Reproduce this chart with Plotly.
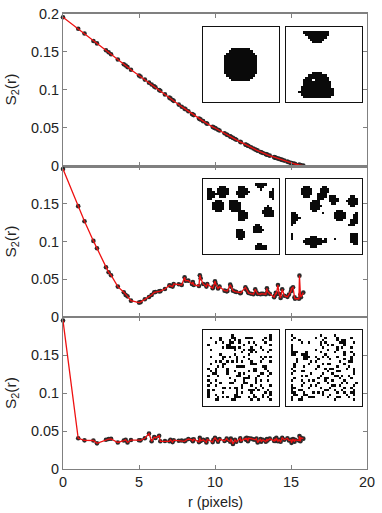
import plotly.graph_objects as go

# r values are the same for all three panels (distances on the pixel lattice)
r_pixels = [0, 1, 1.414, 2, 2.236, 2.828, 3, 3.162, 3.606, 4,
            4.123, 4.243, 4.472, 5, 5.099, 5.385, 5.657, 5.831, 6, 6.083,
            6.325, 6.403, 6.708, 7, 7.071, 7.211, 7.280, 7.616, 7.810, 8,
            8.062, 8.246, 8.485, 8.544, 8.602, 8.944, 9, 9.055, 9.220, 9.434,
            9.487, 9.849, 9.899, 10, 10.050, 10.198, 10.296, 10.630, 10.770, 10.817,
            11, 11.045, 11.180, 11.314, 11.402, 11.662, 11.705, 12, 12.042, 12.083,
            12.166, 12.207, 12.369, 12.530, 12.649, 12.728, 12.806, 13, 13.038, 13.153,
            13.342, 13.416, 13.454, 13.601, 13.892, 13.928, 14, 14.036, 14.142, 14.213,
            14.318, 14.422, 14.560, 14.765, 14.866, 15, 15.033, 15.133, 15.232, 15.264,
            15.524, 15.556, 15.620, 15.652, 15.811]

s2_top = [.1957, .1806, .1742, .1643, .1612, .1522, .1495, .1470, .1400, .1337,
          .1320, .1300, .1265, .1190, .1175, .1135, .1095, .1070, .1045, .1033,
          .0998, .0987, .0940, .0897, .0887, .0865, .0855, .0805, .0777, .0752,
          .0743, .0717, .0682, .0675, .0667, .0622, .0615, .0608, .0587, .0560,
          .0553, .0512, .0505, .0497, .0491, .0474, .0463, .0427, .0411, .0405,
          .0386, .0381, .0366, .0351, .0341, .0314, .0309, .0280, .0276, .0272,
          .0263, .0259, .0242, .0226, .0214, .0206, .0198, .0180, .0177, .0167,
          .0152, .0146, .0143, .0132, .0112, .0109, .0104, .0102, .0095, .0090,
          .0083, .0076, .0067, .0053, .0046, .0036, .0034, .0029, .0024, .0022,
          .0011, .0010, .0008, .0006, .0001]

s2_mid = [.1957, .1466, .1268, .1008, .0911, .0660, .0594, .0555, .0405, .0330,
          .0295, .0277, .0220, .0194, .0200, .0238, .0269, .0295, .0330, .0335,
          .0343, .0345, .0374, .0423, .0415, .0405, .0440, .0436, .0427, .0528,
          .0484, .0484, .0440, .0465, .0427, .0414, .0555, .0515, .0440, .0405,
          .0440, .0383, .0405, .0476, .0440, .0380, .0405, .0352, .0343, .0348,
          .0431, .0405, .0352, .0340, .0335, .0318, .0325, .0396, .0370, .0365,
          .0335, .0320, .0312, .0305, .0370, .0330, .0308, .0305, .0312, .0310,
          .0305, .0383, .0340, .0310, .0265, .0285, .0325, .0305, .0427, .0310,
          .0255, .0370, .0285, .0270, .0300, .0345, .0380, .0396, .0265, .0245,
          .0245, .0550, .0300, .0265, .0326]

s2_bot = [.1957, .0405, .0378, .0376, .0338, .0385, .0395, .0398, .0350, .0375,
          .0385, .0350, .0382, .0380, .0378, .0405, .0467, .0365, .0420, .0410,
          .0437, .0365, .0370, .0365, .0385, .0355, .0380, .0372, .0375, .0365,
          .0375, .0395, .0385, .0365, .0392, .0355, .0410, .0370, .0385, .0350,
          .0390, .0355, .0385, .0410, .0395, .0360, .0395, .0370, .0400, .0385,
          .0360, .0400, .0330, .0385, .0360, .0405, .0370, .0400, .0385, .0410,
          .0365, .0405, .0400, .0390, .0385, .0400, .0350, .0395, .0360, .0385,
          .0360, .0395, .0375, .0400, .0370, .0395, .0370, .0410, .0365, .0385,
          .0360, .0410, .0385, .0405, .0375, .0385, .0345, .0395, .0360, .0385,
          .0375, .0435, .0365, .0410, .0400]

# binary microstructures, one string per row of the 32x32 image
inset_a = ["", "", "", "", "", "", "", "", "",
           "............xxxxxxxx",
           "...........xxxxxxxxxx",
           "..........xxxxxxxxxxxx",
           ".........xxxxxxxxxxxxxx",
           ".........xxxxxxxxxxxxxx",
           ".........xxxxxxxxxxxxxx",
           ".........xxxxxxxxxxxxxx",
           ".........xxxxxxxxxxxxxx",
           ".........xxxxxxxxxxxxxx",
           ".........xxxxxxxxxxxxxx",
           ".........xxxxxxxxxxxxxx",
           "..........xxxxxxxxxxxx",
           "...........xxxxxxxxxx",
           "............xxxxxxxx",
           "", "", "", "", "", "", "", "", ""]

inset_b = ["", "",
           ".......xxxxxxxxxxx",
           "........xxxxxxxxxx",
           ".........xxxxxxxx",
           "..........xxxxxx",
           "...........xxxx",
           "", "", "", "", "", "", "", "", "", "", "", "",
           "...........xxxx",
           ".........xxxxxxxx",
           "........xxxxxxxxxx",
           ".......xxxx.xxxxxx",
           ".......xxxxxxxxxxxx",
           ".......xxxxxxxxxxxx",
           "......xxxxxxxxxxxxx",
           "......xxxxxxxxxxxxxx",
           ".....xxxxxxxxxxxxxxx",
           "......xxxxxxxxxxxxxx",
           ".......xxxxxxxxxxxx",
           "", ""]

inset_c = ["", "",
           "......................xxxxx",
           ".......xxx.....xxx.....xxx",
           "..xx..xxxxx....xxxx.....x....x",
           "..xxx.xxxxx...xxxxxx........xx",
           "..xxxxxxxxx...xxxxx.........xx",
           "..xxx..xxx.....xxx..........xx",
           "..xx.........................x",
           ".....xxx...xxxx",
           "....xxxxx..xxxxx",
           "....xxxxx..xxxxx...........x",
           "....xxxxx..xxxxx..........xxx",
           ".....xxx....xxxxxx.......xxxxx",
           "...............xxxx......xxxxx",
           "...............xxxx.......xxxx",
           "...............xxxx",
           "...............xxx",
           "",
           "......................xx",
           ".....................xxxx",
           "..............xxx....xxxxx",
           "..............xxxx...xxxx",
           "..............xxxx",
           "..............xxxx",
           "...............xx",
           "",
           ".......................xx",
           "......................xxxxx",
           "......................xxxxx",
           "", ""]

inset_d = ["", "", "",
           ".......xxx.....xx",
           "......xxxxx...xxxx",
           "......xxxxx...xxxx",
           "......xxxxx..xxxx",
           ".......xxx...xxxx.xxx......xx",
           ".............xxx..xxxx....xxxx",
           "...........xxx....xxxx...xxxxx",
           "..........xxxx.....xx.....xxxx",
           "..........xxxxx............xx",
           "..........xxxx",
           "...........xx........xxx",
           "..xx...........x....xxxxx....x",
           "..xxx...............xxxxx...xx",
           "..xxxx..............xxxxx...xx",
           "..xxx................xxx...xxx",
           "..xx.......................xxx",
           "..x.......................xxx",
           "", "", "",
           "..x........................xxx",
           "..x.......xxx..............xxx",
           "..x.....xxxxxxx.x...x......xxx",
           ".......xxxxxxxxxx..........xxx",
           "........xxxxxxx.............xx",
           "..........xxx",
           "", "", ""]

inset_e = ["", "",
           "............x...............x",
           "...x...x....xx....xxx.....x.x",
           ".......x...x.x.x.........x..x",
           ".....x..x..xx..x...x.x....x",
           "..x.......xx.....x....x.....x",
           "........x.xxxx.x....x...x",
           "...x.........x...x.xxx...x..x",
           "................x...x.x....x",
           ".......x.....x.....x",
           "...x....xx.x..x..x......x.x.x",
           "........x.....x....x.....x",
           ".....x.x..x.x.x.x...x...x...x",
           "...x....xx..........xxx",
           "......x.x.....xxxx.......xx",
           "..x..x....x..........xx...x",
           "...x.x....x..x.....x.xx....x",
           "....xx....x....x.x......xx..x",
           "..x...x.......xx...x...x...x",
           "...........x.....xxx..x",
           "..x..x.......x...x....x.x..x",
           "...x...x...xx....xx...x",
           "..x..x..........x...x...x...x",
           "........xx.x.xx.x.....x..x",
           "..x.x.........x....xxx.x...x",
           "..x.....x.....x.x...x.....x.x",
           "..x..x.......xx......x...x..x",
           "..x...x.x.x..xxx...x.xx..x.x",
           ".....xx.....xx......x..x....x",
           "", ""]

inset_f = ["", "",
           "..x...........x.....x",
           "...x........x...x....x.....x",
           "..x..x.........x.....x.xx",
           "......x..x....x.x.....xxx...x",
           "..x...........x..x.x....x",
           "..x............x.....x.x...x",
           "..x.........x....x...x",
           "..xxx...x.....x.....x...x..x",
           "..xx..xxx.......x.......x...x",
           ".......xxx..x..x.x...x.....x",
           "....x..xx....x....x.....x..x",
           "....x.....x.x.........x...xx",
           "...x.....x.....x.xx.....x",
           "...x...x.....x.......x....x",
           "..x.........x...x.xx.....x..x",
           "...x..xx.........x...xx.....x",
           "..x.......x....x...x........x",
           "......x.x.....x.....xx.x..x",
           "...x.........x..xx....x....x",
           "..x...x..x.x....x..x....x",
           ".......x.....x...x.....x.x...x",
           "..x...x...x.x......xx.x.....x",
           "..xx.....x....x...x.....x..x",
           "..x..xx.........xx..x..x....x",
           "..xx...x...x.x.x.....x..x..xx",
           "...xx..xx......x..x......x..x",
           "..x...x..xxx.....x...xx...x",
           "..x..xx.............x.......x",
           "", ""]

x_ticks = [0, 5, 10, 15, 20]
y_ticks_top = [0, 0.05, 0.1, 0.15, 0.2]
y_tick_text_top = ["0", "0.05", "0.1", "0.15", "0.2"]
y_ticks_rest = [0, 0.05, 0.1, 0.15]
y_tick_text_rest = ["0", "0.05", "0.1", "0.15"]

GRAY = "#808080"
TEXT = "#222"
FONT_SIZE = 14.4
W, H = 382, 513
LEFT, RIGHT, TOP, BOTTOM = 63, 367, 14, 469


def to_matrix(rows):
    # pad every row to 32 cells, x is a black pixel
    return [[1 if c == "x" else 0 for c in row.ljust(32, ".")] for row in rows]


def dom_x(a, b):
    return [(a - LEFT) / (RIGHT - LEFT), (b - LEFT) / (RIGHT - LEFT)]


def dom_y(a, b):
    # pixel rows counted from the top of the page
    return [(BOTTOM - b) / (BOTTOM - TOP), (BOTTOM - a) / (BOTTOM - TOP)]


fig = go.Figure()
panels = [s2_top, s2_mid, s2_bot]

layout = {}
for i, s2 in enumerate(panels):
    n = i + 1
    suffix = "" if n == 1 else str(n)
    # markers first so the red line sits on top of them
    fig.add_trace(go.Scatter(x=r_pixels, y=s2, mode="markers", xaxis=f"x{suffix}", yaxis=f"y{suffix}",
                             marker=dict(color="#2a2a2a", size=4.6), showlegend=False, hoverinfo="skip", cliponaxis=False))
    fig.add_trace(go.Scatter(x=r_pixels, y=s2, mode="lines", xaxis=f"x{suffix}", yaxis=f"y{suffix}",
                             line=dict(color="#ee1111", width=1.3), showlegend=False))
    layout[f"xaxis{suffix}"] = dict(domain=[0, 1], range=[0, 20], anchor=f"y{suffix}", tickvals=x_ticks,
                                    showticklabels=(n == 3), ticks="inside", ticklen=4, tickcolor=GRAY,
                                    tickwidth=1, showline=True, linecolor=GRAY, linewidth=1.7 if n == 1 else 1.1,
                                    mirror="ticks", showgrid=False, zeroline=False,
                                    tickfont=dict(size=FONT_SIZE, color=TEXT), automargin=False)
    layout[f"yaxis{suffix}"] = dict(domain=[(3 - n) / 3, (4 - n) / 3], range=[0, 0.2], anchor=f"x{suffix}",
                                    tickvals=y_ticks_top if n == 1 else y_ticks_rest,
                                    ticktext=y_tick_text_top if n == 1 else y_tick_text_rest,
                                    ticks="inside", ticklen=4, tickcolor=GRAY, tickwidth=1, showline=True,
                                    linecolor=GRAY, linewidth=1.2, mirror="ticks", showgrid=False, zeroline=False,
                                    tickfont=dict(size=FONT_SIZE, color=TEXT), automargin=False)

# axis titles as annotations, axis titles with a standoff push the margins around
y_title_pos = [89.5, 241.5, 393]
annotations = [dict(text="r (pixels)", xref="paper", yref="paper", x=(215 - LEFT) / (RIGHT - LEFT),
                    y=(BOTTOM - 502) / (BOTTOM - TOP), xanchor="center", yanchor="middle", showarrow=False,
                    font=dict(size=FONT_SIZE, color=TEXT))]
for py in y_title_pos:
    annotations.append(dict(text="S<sub>2</sub>(r)", xref="paper", yref="paper", x=(11 - LEFT) / (RIGHT - LEFT),
                            y=(BOTTOM - py) / (BOTTOM - TOP), xanchor="center", yanchor="middle", showarrow=False,
                            textangle=-90, font=dict(size=15.5, color=TEXT)))

# insets: pixel boxes
inset_rows = [inset_a, inset_b, inset_c, inset_d, inset_e, inset_f]
inset_x = [(202.7, 278.5), (286.3, 362.3)]
inset_y = [(26.7, 102.3), (178.7, 254.3), (329.5, 405.5)]

for k, rows in enumerate(inset_rows):
    ax = 4 + k
    col = k % 2
    row = k // 2
    fig.add_trace(go.Heatmap(z=to_matrix(rows), xaxis=f"x{ax}", yaxis=f"y{ax}", zmin=0, zmax=1,
                             colorscale=[[0, "white"], [1, "#0a0a0a"]], showscale=False, hoverinfo="skip"))
    layout[f"xaxis{ax}"] = dict(domain=dom_x(*inset_x[col]), range=[-0.5, 31.5], anchor=f"y{ax}",
                                showticklabels=False, ticks="", showgrid=False, zeroline=False,
                                showline=True, mirror=True, linecolor="#111", linewidth=1.4, automargin=False)
    layout[f"yaxis{ax}"] = dict(domain=dom_y(*inset_y[row]), range=[31.5, -0.5], anchor=f"x{ax}",
                                showticklabels=False, ticks="", showgrid=False, zeroline=False,
                                showline=True, mirror=True, linecolor="#111", linewidth=1.4, automargin=False)

fig.update_layout(width=W, height=H,
                  margin=dict(l=LEFT, r=W - RIGHT, t=TOP, b=H - BOTTOM, autoexpand=False),
                  paper_bgcolor="white", plot_bgcolor="white", annotations=annotations,
                  font=dict(family="Liberation Sans", size=FONT_SIZE), **layout)

# the browser's default body margin would shift the figure by 8 px
fig.write_html("out.html", config={"displayModeBar": False}, post_script="document.body.style.margin = '0';")
